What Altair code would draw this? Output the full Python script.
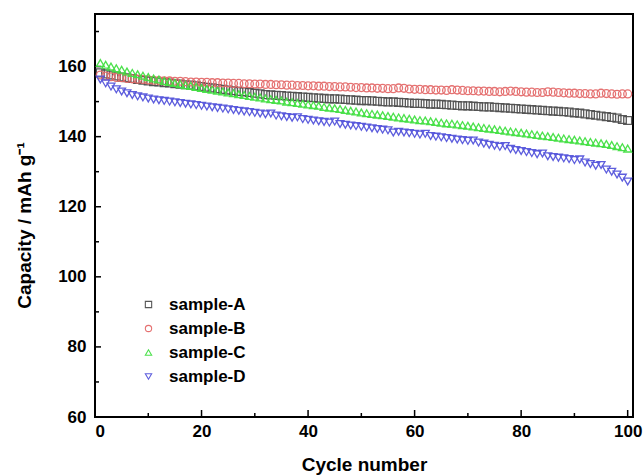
import altair as alt
import pandas as pd

cycles = list(range(1, 101))

sample_a = [
    158.2, 157.9, 157.6, 157.3, 157.0, 156.8, 156.6, 156.3, 156.1, 155.9,
    155.7, 155.6, 155.4, 155.3, 155.1, 155.0, 154.8, 154.7, 154.5, 154.3,
    154.1, 153.9, 153.7, 153.5, 153.3, 153.1, 152.9, 152.8, 152.6, 152.4,
    152.2, 152.0, 151.9, 151.8, 151.7, 151.6, 151.5, 151.4, 151.3, 151.2,
    151.1, 151.0, 150.9, 150.8, 150.8, 150.7, 150.6, 150.5, 150.4, 150.3,
    150.3, 150.2, 150.1, 150.0, 149.9, 149.9, 149.8, 149.7, 149.6, 149.5,
    149.5, 149.4, 149.3, 149.3, 149.2, 149.1, 149.0, 148.9, 148.8, 148.8,
    148.7, 148.6, 148.5, 148.5, 148.4, 148.3, 148.2, 148.1, 148.0, 147.9,
    147.8, 147.7, 147.6, 147.5, 147.4, 147.3, 147.2, 147.1, 147.0, 146.8,
    146.7, 146.5, 146.3, 146.1, 145.9, 145.7, 145.5, 145.3, 144.9, 144.6,
]
sample_b = [
    157.6, 157.3, 157.1, 156.9, 156.8, 156.6, 156.5, 156.4, 156.3, 156.2,
    156.1, 156.0, 155.9, 155.9, 155.8, 155.8, 155.7, 155.6, 155.6, 155.5,
    155.5, 155.4, 155.4, 155.3, 155.3, 155.2, 155.2, 155.1, 155.1, 155.0,
    155.0, 154.9, 154.9, 154.8, 154.8, 154.7, 154.7, 154.6, 154.6, 154.5,
    154.5, 154.4, 154.4, 154.3, 154.3, 154.2, 154.2, 154.1, 154.0, 154.0,
    153.9, 153.9, 153.8, 153.8, 153.7, 153.7, 153.9, 153.8, 153.6, 153.5,
    153.5, 153.4, 153.4, 153.3, 153.3, 153.2, 153.4, 153.3, 153.2, 153.1,
    153.1, 153.0, 153.0, 152.9, 152.9, 152.8, 152.9, 153.0, 152.9, 152.8,
    152.7, 152.7, 152.6, 152.6, 152.8, 152.7, 152.6, 152.5, 152.4, 152.4,
    152.3, 152.3, 152.2, 152.2, 152.4, 152.3, 152.2, 152.1, 152.2, 152.2,
]
sample_c = [
    161.0, 160.5, 160.0, 159.5, 159.1, 158.6, 158.2, 157.8, 157.4, 157.0,
    156.6, 156.3, 155.9, 155.6, 155.3, 155.0, 154.7, 154.5, 154.2, 153.9,
    153.6, 153.4, 153.1, 152.9, 152.6, 152.4, 152.1, 151.9, 151.6, 151.4,
    151.2, 150.9, 150.7, 150.5, 150.3, 150.0, 149.8, 149.6, 149.4, 149.2,
    149.0, 148.8, 148.5, 148.3, 148.1, 147.9, 147.6, 147.4, 147.2, 146.9,
    146.7, 146.5, 146.3, 146.1, 145.9, 145.7, 145.5, 145.3, 145.1, 144.9,
    144.7, 144.6, 144.4, 144.2, 144.0, 143.8, 143.7, 143.5, 143.3, 143.1,
    142.9, 142.7, 142.5, 142.3, 142.1, 141.9, 141.7, 141.5, 141.3, 141.1,
    140.9, 140.7, 140.5, 140.3, 140.1, 139.9, 139.7, 139.5, 139.3, 139.1,
    138.9, 138.7, 138.5, 138.3, 138.1, 137.9, 137.6, 137.3, 137.0, 136.6,
]
sample_d = [
    156.3, 155.2, 154.3, 153.5, 152.9, 152.4, 151.9, 151.5, 151.2, 150.9,
    150.6, 150.4, 150.2, 150.0, 149.8, 149.6, 149.4, 149.2, 149.0, 148.8,
    148.6, 148.4, 148.2, 148.0, 147.8, 147.6, 147.4, 147.2, 147.0, 146.8,
    146.6, 146.4, 146.6, 146.0, 145.8, 145.6, 145.4, 145.5, 145.0, 144.8,
    144.6, 144.4, 144.2, 144.0, 144.3, 143.6, 143.4, 143.2, 143.0, 142.8,
    142.6, 142.4, 142.2, 142.0, 141.8, 141.2, 141.4, 141.2, 141.0, 140.8,
    140.6, 140.8, 140.2, 140.0, 139.8, 139.6, 139.4, 139.2, 139.0, 138.8,
    138.9, 138.3, 138.0, 137.7, 137.4, 137.1, 137.3, 136.5, 136.2, 135.9,
    135.6, 135.3, 135.0, 135.2, 134.4, 134.2, 134.0, 133.8, 133.6, 133.3,
    133.5, 132.6, 132.2, 131.7, 131.9, 130.6, 130.0, 129.2, 128.3, 127.2,
]

series_names = ["sample-A", "sample-B", "sample-C", "sample-D"]
series_values = [sample_a, sample_b, sample_c, sample_d]
series_colors = ["#505050", "#e46a6a", "#44e044", "#5656dc"]
series_shapes = ["square", "circle", "triangle-up", "triangle-down"]

x_ticks = [0, 20, 40, 60, 80, 100]
x_minor = [10, 30, 50, 70, 90]
y_ticks = [60, 80, 100, 120, 140, 160]
y_minor = [70, 90, 110, 130, 150, 170]

rows = []
for name, vals in zip(series_names, series_values):
    for c, v in zip(cycles, vals):
        rows.append({"cycle": c, "capacity": v, "sample": name})
df = pd.DataFrame(rows)

W, H = 538, 403
FONT = "Liberation Sans"
FS = 17
TFS = 19

xscale = alt.Scale(domain=[0, 101], nice=False, zero=False)
yscale = alt.Scale(domain=[60, 175], nice=False, zero=False)

legend = alt.Legend(orient="none", legendX=45, legendY=282, title=None,
                    labelFontSize=FS, labelFontWeight="bold", labelFont=FONT,
                    labelColor="black", symbolSize=40, symbolStrokeWidth=1.1,
                    rowPadding=6, labelOffset=12, padding=0)

points = alt.Chart(df).mark_point(filled=False, size=62, strokeWidth=1.3, opacity=0.95).encode(
    x=alt.X("cycle:Q", scale=xscale,
            axis=alt.Axis(values=x_ticks, title="Cycle number", labelFontSize=FS,
                          labelFontWeight="bold", titleFontSize=TFS, titleFontWeight="bold",
                          labelPadding=6, titlePadding=16, domain=False, ticks=False,
                          grid=False, labelColor="black", titleColor="black",
                          labelFont=FONT, titleFont=FONT)),
    y=alt.Y("capacity:Q", scale=yscale,
            axis=alt.Axis(values=y_ticks, title="Capacity / mAh g⁻¹", labelFontSize=FS,
                          labelFontWeight="bold", titleFontSize=TFS, titleFontWeight="bold",
                          labelPadding=9, titlePadding=23, domain=False, ticks=False,
                          grid=False, labelColor="black", titleColor="black",
                          labelFont=FONT, titleFont=FONT, titleY=211)),
    color=alt.Color("sample:N", scale=alt.Scale(domain=series_names, range=series_colors),
                    legend=legend),
    shape=alt.Shape("sample:N", scale=alt.Scale(domain=series_names, range=series_shapes),
                    legend=legend),
    order=alt.Order("sample:N"),
)

def yticks(vals, length):
    d = pd.DataFrame({"v": vals})
    return alt.Chart(d).mark_rule(color="black", strokeWidth=1.5).encode(
        y=alt.Y("v:Q", scale=yscale), x=alt.value(0), x2=alt.value(length))

def xticks(vals, length):
    d = pd.DataFrame({"v": vals})
    return alt.Chart(d).mark_rule(color="black", strokeWidth=1.5).encode(
        x=alt.X("v:Q", scale=xscale), y=alt.value(H), y2=alt.value(H - length))

chart = alt.layer(
    yticks(y_ticks, 6), yticks(y_minor, 4),
    xticks(x_ticks, 7), xticks(x_minor, 4),
    points,
).properties(
    width=W, height=H,
    padding={"left": 95, "top": 14, "right": 11, "bottom": 58},
    autosize=alt.AutoSizeParams(type="none"),
    background="white",
).configure_view(stroke="black", strokeWidth=2)

chart.save("out.html", embed_options={"renderer": "svg", "actions": False})
